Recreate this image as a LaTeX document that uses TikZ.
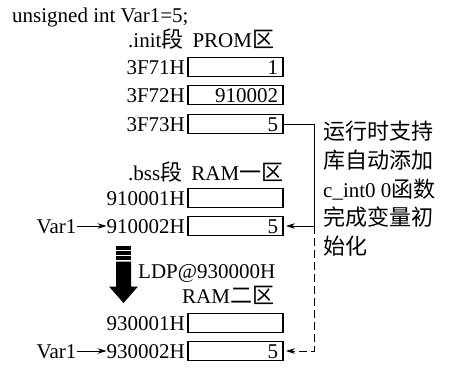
\documentclass[tikz,border=0pt]{standalone}
\usepackage{fontspec}
\setmainfont{Liberation Serif}
\newfontfamily\cjk{Noto Sans CJK SC}[Scale=1.05]
\usetikzlibrary{arrows.meta,positioning}

\tikzset{
  cell/.style={draw, line width=1.8pt, minimum width=95pt, minimum height=19pt,
    inner sep=0pt, text width=85pt, align=right, text height=14pt, text depth=0pt},
  addr/.style={inner sep=0pt, text height=14pt, text depth=0pt},
  txt/.style={inner sep=0pt},
  ptr/.style={-{Stealth[length=9pt,width=5.5pt]}, line width=0.8pt},
  dashes/.style={dash pattern=on 8pt off 4pt},
}

\begin{document}
\begin{tikzpicture}[x=1pt, y=-1pt, every node/.style={font=\fontsize{21}{25}\selectfont}]
  \useasboundingbox (0,0) rectangle (449,368);

  % declaration
  \node[txt, anchor=base west] (decl) at (12,22) {unsigned int Var1=5;};

  % .init section in PROM
  \node[txt, anchor=base west] (h1) at (128,47) {.init{\cjk 段}\hspace{9pt}PROM{\cjk 区}};
  \node[cell] (b1) at (235.5,67) {1};
  \node[cell] (b2) at (235.5,95) {910002};
  \node[cell] (b3) at (235.5,124) {5};
  \node[addr, left=2pt of b1] (a1) {3F71H};
  \node[addr, left=2pt of b2] (a2) {3F72H};
  \node[addr, left=2pt of b3] (a3) {3F73H};

  % .bss section in RAM 1
  \node[txt, anchor=base west] (h2) at (128,180) {.bss{\cjk 段}\hspace{9pt}RAM{\cjk 一区}};
  \node[cell] (r1) at (235.5,198) {};
  \node[cell] (r2) at (235.5,226) {5};
  \node[addr, left=2pt of r1] (a4) {910001H};
  \node[addr, left=2pt of r2] (a5) {910002H};
  \node[addr, left=30pt of a5] (v1) {Var1};
  \draw[ptr] (v1) -- (a5);

  % page switch
  \begin{scope}[shift={(123.5,245)}]
    \foreach \y in {1,6,11}
      \fill (-7.5,\y) rectangle (7.5,\y+3.5);
    \fill (-7.5,16.5) -- (7.5,16.5) -- (7.5,41.5) -- (14.5,41.5) -- (0,58)
      -- (-14.5,41.5) -- (-7.5,41.5) -- cycle;
  \end{scope}
  \node[txt, anchor=base west] (ldp) at (138,278) {LDP@930000H};
  \node[txt, anchor=base west] (h3) at (182,303) {RAM{\cjk 二区}};

  % RAM 2
  \node[cell] (s1) at (235.5,323) {};
  \node[cell] (s2) at (235.5,351) {5};
  \node[addr, left=2pt of s1] (a6) {930001H};
  \node[addr, left=2pt of s2] (a7) {930002H};
  \node[addr, left=30pt of a7] (v2) {Var1};
  \draw[ptr] (v2) -- (a7);

  % copy by run-time support
  \path (r2.east) ++(30,0) coordinate (j);
  \draw[line width=0.8pt] (b3.east) -| (j);
  \draw[ptr, shorten >=2pt] (j) -- (r2.east);
  \draw[ptr, dashes, shorten >=2pt] (j) |- (s2.east);
  \node[txt, anchor=north west, align=left, font=\fontsize{21}{28.7}\selectfont] (note) at (323,121)
    {{\cjk 运行时支持}\\{\cjk 库自动添加}\\c\_int0 0{\cjk 函数}\\{\cjk 完成变量初}\\{\cjk 始化}};
\end{tikzpicture}
\end{document}
